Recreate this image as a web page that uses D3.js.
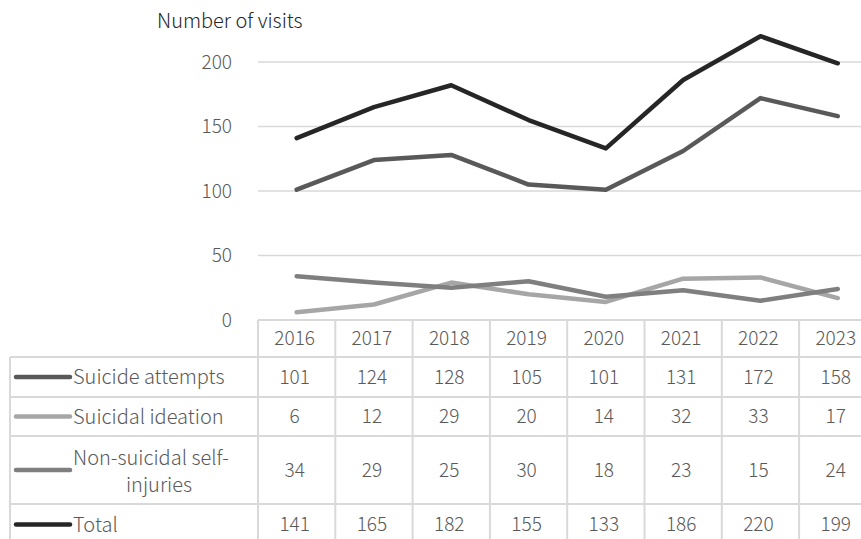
<!DOCTYPE html>
<html>
<head>
<meta charset="utf-8">
<script src="https://cdn.jsdelivr.net/npm/d3@7"></script>
<style>
  body { margin: 0; background: #fff; overflow: hidden; }
  svg text { font-family: "Noto Sans CJK SC", "Open Sans", sans-serif; font-weight: 300; fill: #595959; }
</style>
</head>
<body>
<svg id="chart" width="861" height="539"></svg>
<script>
const years = ['2016', '2017', '2018', '2019', '2020', '2021', '2022', '2023'];
const attempts = [101, 124, 128, 105, 101, 131, 172, 158];
const ideation = [6, 12, 29, 20, 14, 32, 33, 17];
const selfInjury = [34, 29, 25, 30, 18, 23, 15, 24];
const total = [141, 165, 182, 155, 133, 186, 220, 199];
const yTicks = [0, 50, 100, 150, 200];

const series = [
  { name: ['Suicide attempts'], values: attempts, color: '#595959' },
  { name: ['Suicidal ideation'], values: ideation, color: '#a6a6a6' },
  { name: ['Non-suicidal self-', 'injuries'], values: selfInjury, color: '#7f7f7f' },
  { name: ['Total'], values: total, color: '#262626' }
];

const svg = d3.select('#chart');
const gridColor = '#d9d9d9';
const left = 258, colW = 77.3;
const tableLeft = 10;
const numSize = '19px', labelSize = '20px';

const x = d3.scaleBand()
  .domain(years)
  .range([left, left + colW * years.length]);
const y = d3.scaleLinear()
  .domain([0, 200])
  .range([320, 62]);

// gridlines
svg.append('g')
  .selectAll('line')
  .data(yTicks.filter(d => d > 0))
  .join('line')
  .attr('x1', left).attr('x2', left + colW * years.length)
  .attr('y1', d => y(d)).attr('y2', d => y(d))
  .attr('stroke', gridColor).attr('stroke-width', 1.5);

// y axis labels
svg.append('g')
  .selectAll('text')
  .data(yTicks)
  .join('text')
  .attr('x', 232)
  .attr('y', d => y(d))
  .attr('dy', '0.35em')
  .attr('text-anchor', 'end')
  .style('font-size', numSize)
  .text(d => d);

svg.append('text')
  .attr('x', 157).attr('y', 28)
  .style('font-size', labelSize)
  .style('fill', '#262626')
  .text('Number of visits');

// lines
const line = d3.line()
  .x((d, i) => x(years[i]) + x.bandwidth() / 2)
  .y(d => y(d));

svg.append('g')
  .selectAll('path')
  .data(series)
  .join('path')
  .attr('d', d => line(d.values))
  .attr('fill', 'none')
  .attr('stroke', d => d.color)
  .attr('stroke-width', 4.5)
  .attr('stroke-linejoin', 'round')
  .attr('stroke-linecap', 'round');

// data table
const rowEdges = [320, 357, 397, 436, 504, 545];
const right = left + colW * years.length;
const tbl = svg.append('g').attr('stroke', gridColor).attr('stroke-width', 2);

// horizontal borders
rowEdges.forEach((ry, i) => {
  tbl.append('line')
    .attr('x1', i === 0 ? left : tableLeft).attr('x2', right)
    .attr('y1', ry).attr('y2', ry);
});
// vertical borders
tbl.append('line')
  .attr('x1', tableLeft).attr('x2', tableLeft)
  .attr('y1', rowEdges[1]).attr('y2', rowEdges[5]);
d3.range(years.length + 1).forEach(i => {
  const vx = left + colW * i;
  tbl.append('line')
    .attr('x1', vx).attr('x2', vx)
    .attr('y1', rowEdges[0]).attr('y2', rowEdges[5]);
});

// header years
svg.append('g')
  .selectAll('text')
  .data(years)
  .join('text')
  .attr('x', d => x(d) + x.bandwidth() / 2 - 2)
  .attr('y', (rowEdges[0] + rowEdges[1]) / 2)
  .attr('dy', '0.35em')
  .attr('text-anchor', 'middle')
  .style('font-size', numSize)
  .text(d => d);

// rows
series.forEach((s, r) => {
  const cy = (rowEdges[r + 1] + rowEdges[r + 2]) / 2;
  const g = svg.append('g');
  g.append('line')
    .attr('x1', 16).attr('x2', 70)
    .attr('y1', cy).attr('y2', cy)
    .attr('stroke', s.color).attr('stroke-width', 4.5)
    .attr('stroke-linecap', 'round');
  if (s.name.length === 1) {
    g.append('text')
      .attr('x', 73).attr('y', cy).attr('dy', '0.35em')
      .style('font-size', labelSize)
      .text(s.name[0]);
  } else {
    g.append('text')
      .attr('x', 73).attr('y', cy - 12).attr('dy', '0.35em')
      .style('font-size', labelSize)
      .text(s.name[0]);
    g.append('text')
      .attr('x', 159).attr('y', cy + 15).attr('dy', '0.35em')
      .attr('text-anchor', 'middle')
      .style('font-size', labelSize)
      .text(s.name[1]);
  }
  g.selectAll('text.val')
    .data(s.values)
    .join('text')
    .attr('class', 'val')
    .attr('x', (d, i) => x(years[i]) + x.bandwidth() / 2 - 2)
    .attr('y', cy).attr('dy', '0.35em')
    .attr('text-anchor', 'middle')
    .style('font-size', numSize)
    .text(d => d);
});
</script>
</body>
</html>
